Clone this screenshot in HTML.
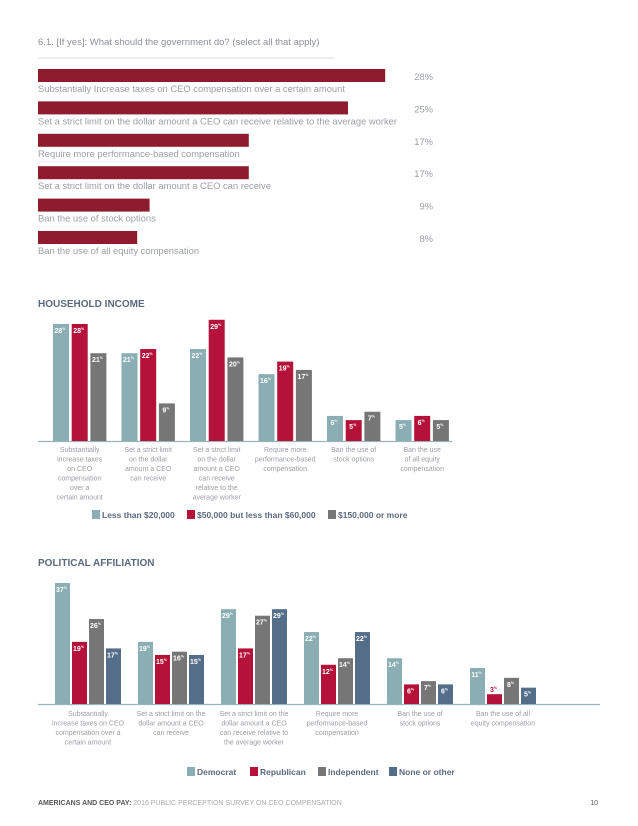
<!DOCTYPE html>
<html><head><meta charset="utf-8"><style>
body{margin:0;background:#fff;font-family:"Liberation Sans",sans-serif;}
#page{position:relative;width:638px;height:826px;overflow:hidden;background:#fff}
svg text{font-family:"Liberation Sans",sans-serif}
</style></head><body>
<div id="page">
<svg id="svg" width="638" height="826">
<text x="38" y="45" font-size="9.5" fill="#8a8f96">6.1.  [If yes]: What should the government do? (select all that apply)</text>
<line x1="38" y1="58" x2="335" y2="58" stroke="#ddd" stroke-width="1"/>
<text x="38" y="307" font-size="10" font-weight="bold" fill="#5a6a7e">HOUSEHOLD INCOME</text>
<text x="38" y="566" font-size="10" font-weight="bold" fill="#5a6a7e">POLITICAL AFFILIATION</text>
<text x="38" y="805" font-size="7" fill="#aaa"><tspan font-weight="bold" fill="#555">AMERICANS AND CEO PAY:</tspan> 2016 PUBLIC PERCEPTION SURVEY ON CEO COMPENSATION</text>
<text x="598" y="805" font-size="7" fill="#555" text-anchor="end">10</text>
</svg>
</div>
<script>
const NS='http://www.w3.org/2000/svg';
const svg=document.getElementById('svg');
function mk(tag,attrs,parent){const e=document.createElementNS(NS,tag);for(const k in attrs)e.setAttribute(k,attrs[k]);(parent||svg).appendChild(e);return e;}

// Chart 1 data
const topCategories=["Substantially Increase taxes on CEO compensation over a certain amount","Set a strict limit on the dollar amount a CEO can receive relative to the average worker","Require more performance-based compensation","Set a strict limit on the dollar amount a CEO can receive","Ban the use of stock options","Ban the use of all equity compensation"];
const topValues=[28,25,17,17,9,8];

// Chart 2 data
const incomeCategories=[["Substantially","increase taxes","on CEO","compensation","over a","certain amount"],["Set a strict limit","on the dollar","amount a CEO","can receive"],["Set a strict limit","on the dollar","amount a CEO","can receive","relative to the","average worker"],["Require more","performance-based","compensation"],["Ban the use of","stock options"],["Ban the use","of all equity","compensation"]];
const incomeSeries=["Less than $20,000","$50,000 but less than $60,000","$150,000 or more"];
const incomeLow=[28,21,22,16,6,5];
const incomeMid=[28,22,29,19,5,6];
const incomeHigh=[21,9,20,17,7,5];

// Chart 3 data
const politicalCategories=[["Substantially","increase taxes on CEO","compensation over a","certain amount"],["Set a strict limit on the","dollar amount a CEO","can receive"],["Set a strict limit on the","dollar amount a CEO","can receive relative to","the average worker"],["Require more","performance-based","compensation"],["Ban the use of","stock options"],["Ban the use of all","equity compensation"]];
const politicalSeries=["Democrat","Republican","Independent","None or other"];
const democrat=[37,19,29,22,14,11];
const republican=[19,15,17,12,6,3];
const independent=[26,16,27,14,7,8];
const noneOther=[17,15,29,22,6,5];

// ---- Chart 1
const x1=v=>v*12.4;
topValues.forEach((v,i)=>{
  const y=69+i*32.4;
  const r=mk('rect',{x:38,y:y,width:x1(v),height:13,fill:'#8e1b2e'});
  
  
  const t=mk('text',{x:38,y:y+23,'font-size':9.4,fill:'#9a9ea4'});t.textContent=topCategories[i];
  
  
  const p=mk('text',{x:433,y:y+11,'font-size':9.4,fill:'#9a9ea4','text-anchor':'end'});p.textContent=v+'%';
  
  
});

function grouped(cfg){
  const {base,scale,gx0,gstep,bw,bstep,series,colors,cats,names,labelY,lineX2,legY,legX,prefix}=cfg;
  const ln=mk('line',{x1:38,y1:base+0.5,x2:lineX2,y2:base+0.5,stroke:'#9bb4ba','stroke-width':1.2});
  
  
  cats.forEach((c,g)=>{
    const gx=gx0+g*gstep;
    series.forEach((s,k)=>{
      const v=s[g],h=v*scale,x=gx+k*bstep;
      const r=mk('rect',{x:x,y:base-h,width:bw,height:h,fill:colors[k]});
      
      
      const small=h<12;
      const t=mk('text',{x:x+bw/2-1,y:small?base-h-2:base-h+9,'font-size':7,'font-weight':'bold',fill:small&&k==1&&prefix=='political'?'#b5123a':'#fff','text-anchor':'middle'});
      t.innerHTML=v+'<tspan font-size="3.5" dy="-3">%</tspan>';
      
      
    });
    const cx=gx+(series.length*bstep-(bstep-bw))/2;
    const tl=mk('text',{x:cx,y:labelY,'font-size':7,fill:'#9a9ea4','text-anchor':'middle'});
    c.forEach((line,j)=>{const ts=mk('tspan',{x:cx,dy:j?9.5:0},tl);ts.textContent=line;});
    
    
  });
  names.forEach((n,k)=>{
    const sq=mk('rect',{x:legX[k],y:legY-8,width:8,height:9,fill:colors[k]});
    
    
    const t=mk('text',{x:legX[k]+10,y:legY,'font-size':8.5,'font-weight':'bold',fill:'#5a6a7e'});t.textContent=n;
    
    
  });
}
grouped({base:441,scale:4.18,gx0:53,gstep:68.5,bw:16,bstep:18.7,series:[incomeLow,incomeMid,incomeHigh],
  colors:['#8aaeb4','#b5123a','#767676'],cats:incomeCategories,names:incomeSeries,labelY:452,lineX2:452,legY:518,legX:[92,187,328],prefix:'income'});
grouped({base:704,scale:3.27,gx0:55,gstep:83,bw:15,bstep:17,series:[democrat,republican,independent,noneOther],
  colors:['#8aaeb4','#b5123a','#767676','#546e8a'],cats:politicalCategories,names:politicalSeries,labelY:716,lineX2:600,legY:775,legX:[187,250,318,389],prefix:'political'});
</script>
</body></html>
